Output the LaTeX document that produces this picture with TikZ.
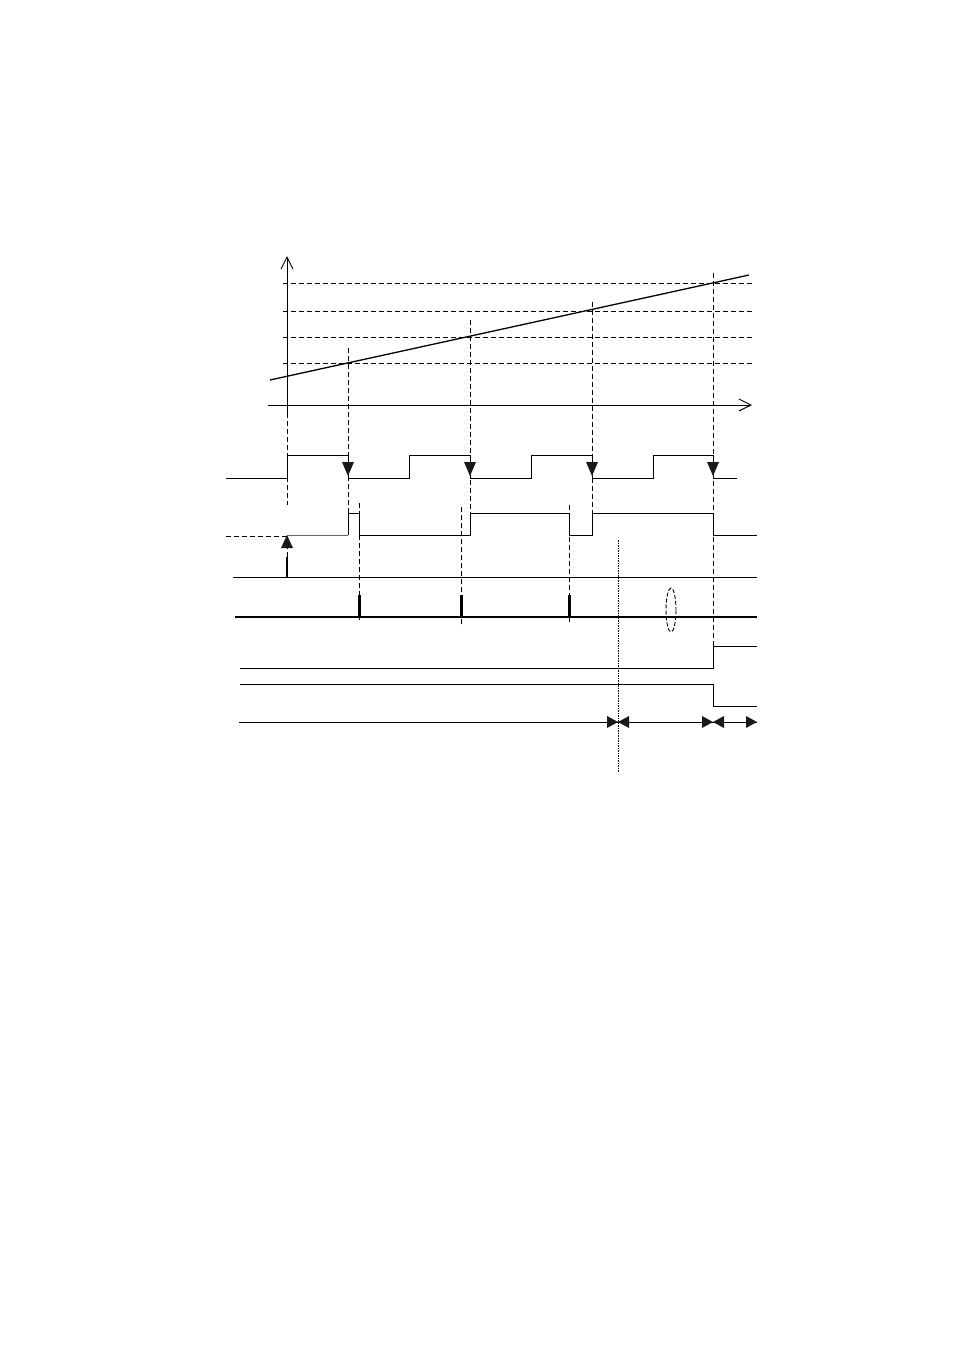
\documentclass[tikz,border=0pt]{standalone}
\usetikzlibrary{arrows.meta}
\begin{document}
\begin{tikzpicture}[x=1pt,y=-1pt,
  thinln/.style={line width=1.0pt,line join=miter},
  dsh/.style={line width=1.0pt,dash pattern=on 5pt off 3pt},
  dotln/.style={line width=0.8pt,dash pattern=on 1.5pt off 1pt},
  thickln/.style={line width=2.8pt},
  tipfill/.style={fill=black!90}]
\useasboundingbox (0,0) rectangle (954,1350);
% axes
\draw[thinln,-{Straight Barb[length=12pt,width=12pt,line width=1pt]}] (287,413) -- (287,256);
\draw[thinln,-{Straight Barb[length=12pt,width=12pt,line width=1pt]}] (268,405) -- (752,405);
\draw[line width=1.3pt] (270,380) -- (749,275);
% threshold lines
\foreach \yy in {283.5,311,337,363} {\draw[dsh] (283,\yy) -- (752,\yy);}
% vertical dashed guides
\draw[dsh] (287,413) -- (287,505);
\draw[dsh] (348,348) -- (348,513);
\draw[dsh] (470,320) -- (470,513);
\draw[dsh] (592,302) -- (592,513);
\draw[dsh] (713,273) -- (713,646);
\draw[dsh] (359,503) -- (359,622);
\draw[dsh] (461,507) -- (461,627);
\draw[dsh] (569,505) -- (569,623);
% wave 1
\draw[thinln] (226,478) -- (287,478) -- (287,455) -- (348,455) -- (348,478) -- (409,478) -- (409,455) -- (470,455) -- (470,478) -- (531,478) -- (531,455) -- (592,455) -- (592,478) -- (653,478) -- (653,455) -- (713,455) -- (713,478) -- (737,478);
\foreach \xx in {348,470,592,713} {\fill[tipfill] (\xx-6,462) -- (\xx+6,462) -- (\xx,476) -- cycle;}
% wave 2
\draw[dsh] (226,536) -- (287,536);
\draw[thinln,black!60] (287,535) -- (348,535);
\draw[thinln] (348,535) -- (348,513) -- (359,513) -- (359,535) -- (470,535) -- (470,513) -- (569,513) -- (569,535) -- (592,535) -- (592,513) -- (713,513) -- (713,535) -- (757,535);
% up arrow
\draw[thickln] (287,577) -- (287,557);
\draw[dsh] (287,557) -- (287,548);
\fill[tipfill] (281,548) -- (293,548) -- (287,535) -- cycle;
% wave 3
\draw[thinln] (233,577) -- (757,577);
% wave 4
\draw[thickln] (235,617) -- (757,617);
\foreach \xx in {359,461,569} {\draw[line width=3pt] (\xx,595) -- (\xx,617);}
% dotted marker
\draw[dotln] (618,540) -- (618,772);
\draw[line width=0.9pt,dash pattern=on 4pt off 2pt] (671,610) ellipse (5 and 22);
% wave 5 and 6
\draw[thinln] (240,668) -- (713,668) -- (713,646) -- (757,646);
\draw[thinln] (240,684) -- (713,684) -- (713,706) -- (757,706);
% wave 7 intervals
\draw[thinln] (239,722) -- (757,722);
\fill[tipfill] (607,716) -- (607,728) -- (618,722) -- cycle;
\fill[tipfill] (629,716) -- (629,728) -- (618,722) -- cycle;
\fill[tipfill] (702,716) -- (702,728) -- (713,722) -- cycle;
\fill[tipfill] (724,716) -- (724,728) -- (713,722) -- cycle;
\fill[tipfill] (746,716) -- (746,728) -- (757,722) -- cycle;
\end{tikzpicture}
\end{document}
